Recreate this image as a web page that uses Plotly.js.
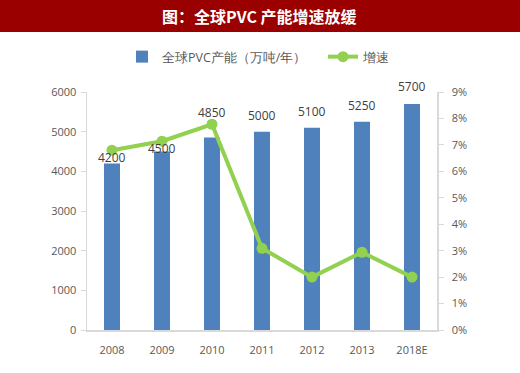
<!DOCTYPE html>
<html>
<head>
<meta charset="utf-8">
<script src="https://cdn.plot.ly/plotly-3.0.1.min.js"></script>
<style>html,body{margin:0;padding:0;background:#fff;}#chart{width:520px;height:373px;}</style>
</head>
<body>
<div id="chart"></div>
<script>
const categories = ['2008', '2009', '2010', '2011', '2012', '2013', '2018E'];
const capacity = [4200, 4500, 4850, 5000, 5100, 5250, 5700];
const growth = [6.8, 7.14, 7.78, 3.09, 2.0, 2.94, 2.0];
const leftTicks = [0, 1000, 2000, 3000, 4000, 5000, 6000];
const rightTicks = [0, 1, 2, 3, 4, 5, 6, 7, 8, 9];
const seriesNames = ['全球PVC产能（万吨/年）', '增速'];
const titleText = '图：全球PVC 产能增速放缓';

// label vertical offsets (px) – styling only
const labelShift = [3, 1, 23, 14, 14, 14, 15];

const W = 520, H = 373;
const mL = 87, mR = 83, mT = 92, mB = 43;
const plotH = H - mT - mB, plotW = W - mL - mR;
const py = p => 1 + (mT - p) / plotH;
const px = p => (p - mL) / plotW;

const gray = '#595959';
const axisCol = '#d9d9d9';
const font = 'Open Sans, Liberation Sans, sans-serif';

const traces = [
  {
    type: 'bar', x: categories, y: capacity, name: seriesNames[0],
    marker: {color: '#4f81bd'}, yaxis: 'y', hoverinfo: 'none', legend: 'legend'
  },
  {
    type: 'scatter', mode: 'lines+markers', x: categories, y: growth, name: seriesNames[1],
    line: {color: '#92d050', width: 4}, marker: {color: '#92d050', size: 11},
    yaxis: 'y2', hoverinfo: 'none', legend: 'legend2'
  }
];

// bar value labels: x given as category index (numeric-looking names would be read as indices)
const annotations = categories.map((c, i) => ({
  x: i, y: capacity[i], xref: 'x', yref: 'y', text: String(capacity[i]),
  showarrow: false, yanchor: 'bottom', yshift: labelShift[i] - 8,
  font: {family: font, size: 12, color: '#404040'}
}));
annotations.push({
  xref: 'paper', yref: 'paper', x: px(259), y: py(16), xanchor: 'center', yanchor: 'middle',
  text: '<b>' + titleText + '</b>', showarrow: false,
  font: {family: 'Noto Sans CJK SC, sans-serif', size: 16, color: '#ffffff'}
});

const legendBase = {
  orientation: 'h', xanchor: 'left', yanchor: 'middle',
  font: {family: font, size: 12.5, color: gray}, bgcolor: 'rgba(0,0,0,0)', borderwidth: 0
};

const layout = {
  width: W, height: H,
  margin: {l: mL, r: mR, t: mT, b: mB, pad: 0},
  paper_bgcolor: '#ffffff', plot_bgcolor: '#ffffff',
  showlegend: true,
  legend: Object.assign({}, legendBase, {x: px(122), y: py(57)}),
  legend2: Object.assign({}, legendBase, {x: px(323), y: py(57)}),
  bargap: 0.68,
  xaxis: {
    type: 'category', range: [-0.5, categories.length - 0.5], autorange: false,
    showline: true, linecolor: axisCol, linewidth: 2,
    ticks: '', showgrid: false, zeroline: false, ticklabelstandoff: 9,
    tickfont: {family: font, size: 11, color: gray}
  },
  yaxis: {
    range: [0, 6000], tickvals: leftTicks, showline: true, linecolor: axisCol, linewidth: 1.5,
    ticks: 'outside', ticklen: 5, tickcolor: axisCol, showgrid: false, zeroline: false,
    ticklabelstandoff: 2,
    tickfont: {family: font, size: 11, color: gray}
  },
  yaxis2: {
    range: [0, 9], tickvals: rightTicks, ticktext: rightTicks.map(v => v + '%'),
    overlaying: 'y', side: 'right',
    showline: true, linecolor: axisCol, linewidth: 1.5, ticks: 'outside', ticklen: 5, tickcolor: axisCol,
    showgrid: false, zeroline: false, ticklabelstandoff: 6,
    tickfont: {family: font, size: 11, color: gray}
  },
  shapes: [{
    type: 'rect', xref: 'paper', yref: 'paper', x0: px(0), x1: px(W), y0: py(32), y1: py(0),
    fillcolor: '#9b0000', line: {width: 0}, layer: 'below'
  }],
  annotations: annotations
};

Plotly.newPlot('chart', traces, layout, {staticPlot: true, displayModeBar: false});
</script>
</body>
</html>
